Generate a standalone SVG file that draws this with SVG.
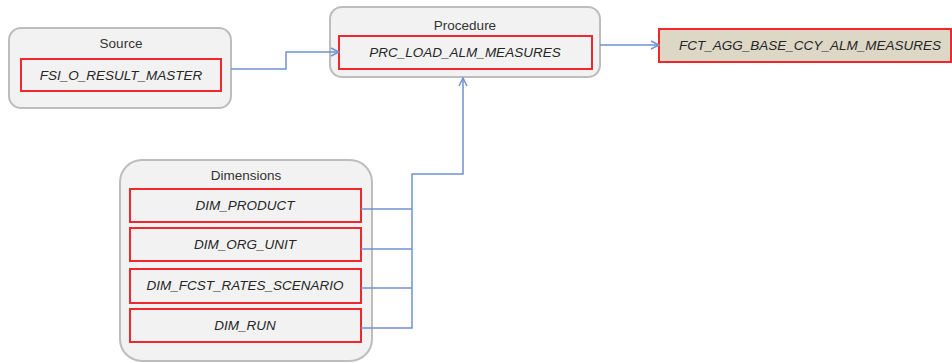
<svg xmlns="http://www.w3.org/2000/svg" width="952" height="363" viewBox="0 0 952 363">
<style>
.grp{fill:#F2F2F2;stroke:#BDBDBD;stroke-width:2}
.ent{fill:#F2F2F2;stroke:#F0282D;stroke-width:2}
.tbl{fill:#DDD7C6;stroke:#F0282D;stroke-width:2}
.ttl{font-family:"Liberation Sans",Arial,sans-serif;font-size:13.5px;fill:#333;text-anchor:middle}
.lbl{font-family:"Liberation Sans",Arial,sans-serif;font-size:13.5px;font-style:italic;fill:#262626;text-anchor:middle}
.con{fill:none;stroke:#6F93CF;stroke-width:1.5}
</style>
<defs>
<marker id="arr" viewBox="0 0 10 10" refX="9" refY="5" markerWidth="10" markerHeight="10" markerUnits="userSpaceOnUse" orient="auto">
<polyline points="1,1 9,5 1,9" fill="none" stroke="#6F93CF" stroke-width="1.5"/>
</marker>
</defs>
<g id="source">
<rect class="grp" x="9" y="28" width="222" height="80" rx="12"/>
<text class="ttl" x="121" y="48">Source</text>
<rect class="ent" x="21" y="59" width="200" height="32"/>
<text class="lbl" x="121" y="80">FSI_O_RESULT_MASTER</text>
</g>
<g id="procedure">
<rect class="grp" x="330" y="7" width="270" height="70" rx="12"/>
<text class="ttl" x="465" y="30">Procedure</text>
<rect class="ent" x="339" y="36" width="253" height="33"/>
<text class="lbl" x="465" y="57">PRC_LOAD_ALM_MEASURES</text>
</g>
<g id="target">
<rect class="tbl" x="659" y="29" width="292" height="33"/>
<text class="lbl" x="810" y="50">FCT_AGG_BASE_CCY_ALM_MEASURES</text>
</g>
<g id="dimensions">
<rect class="grp" x="120" y="160" width="252" height="201" rx="22"/>
<text class="ttl" x="246" y="180">Dimensions</text>
<g id="dim_product"><rect class="ent" x="130" y="189" width="231" height="33"/><text class="lbl" x="245" y="210">DIM_PRODUCT</text></g>
<g id="dim_org_unit"><rect class="ent" x="130" y="228" width="231" height="33"/><text class="lbl" x="245" y="249">DIM_ORG_UNIT</text></g>
<g id="dim_fcst_rates_scenario"><rect class="ent" x="130" y="269" width="231" height="34"/><text class="lbl" x="245" y="290">DIM_FCST_RATES_SCENARIO</text></g>
<g id="dim_run"><rect class="ent" x="130" y="309" width="231" height="33"/><text class="lbl" x="245" y="330">DIM_RUN</text></g>
</g>
<g id="connectors">
<polyline class="con" points="231,69 286,69 286,52 339,52" marker-end="url(#arr)"/>
<polyline class="con" points="600,45 659,45" marker-end="url(#arr)"/>
<polyline class="con" points="361,209 412,209"/>
<polyline class="con" points="361,249 412,249"/>
<polyline class="con" points="361,288 412,288"/>
<polyline class="con" points="361,328 412,328 412,174 463,174 463,78" marker-end="url(#arr)"/>
</g>
</svg>
